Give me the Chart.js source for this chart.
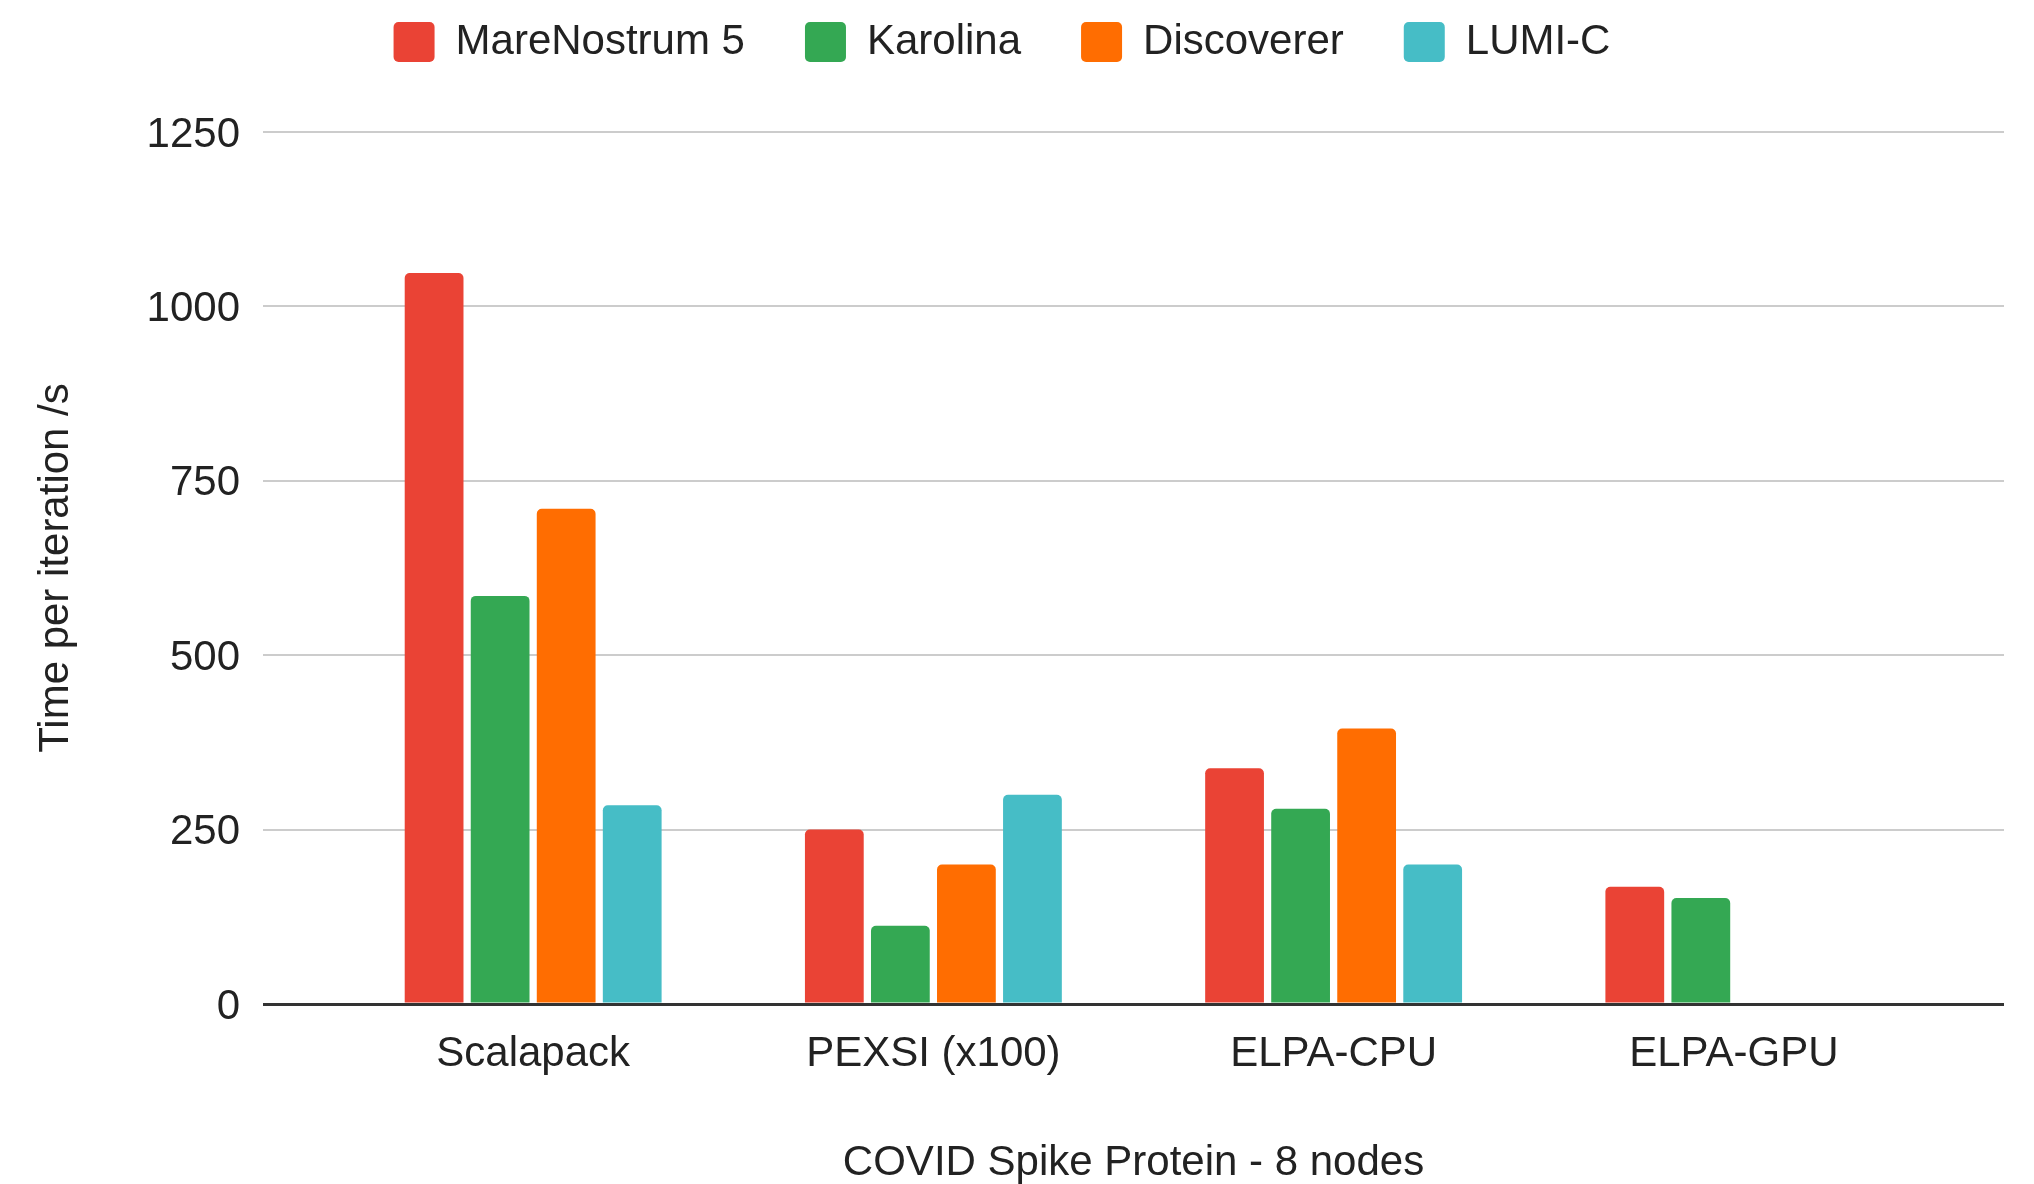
<!DOCTYPE html>
<html>
<head>
<meta charset="utf-8">
<title>COVID Spike Protein - 8 nodes</title>
<script src="https://cdn.jsdelivr.net/npm/chart.js@4.4.1/dist/chart.umd.min.js"></script>
<style>
  html, body { margin: 0; padding: 0; background: #fff; }
  canvas { display: block; }
</style>
</head>
<body>
<canvas id="bar-chart" width="2034" height="1184"></canvas>
<script>
// values (seconds per iteration)
const categories = ['Scalapack', 'PEXSI (x100)', 'ELPA-CPU', 'ELPA-GPU'];
const mareNostrum = [1048, 250, 338, 168];
const karolina = [585, 112, 280, 152];
const discoverer = [710, 200, 395, null];
const lumiC = [285, 300, 200, null];
const yTicks = [0, 250, 500, 750, 1000, 1250];

const FONT = '"Liberation Sans", Arial, sans-serif';
const TEXT = '#222';

// category index -> {x, y} so a linear x axis can leave room at both ends
const toPoints = arr => arr.map((v, i) => ({ x: i, y: v }));

// make the legend take the whole band above the plot
const legendSpace = {
  id: 'legendSpace',
  beforeLayout(chart) {
    const lg = chart.legend;
    if (lg && !lg._padded) {
      const fit = lg.fit;
      lg.fit = function () { fit.call(this); this.height = 171; };
      lg._padded = true;
    }
  }
};

new Chart(document.getElementById('bar-chart'), {
  type: 'bar',
  data: {
    datasets: [
      { label: 'MareNostrum 5', data: toPoints(mareNostrum), backgroundColor: '#EA4335' },
      { label: 'Karolina', data: toPoints(karolina), backgroundColor: '#34A853' },
      { label: 'Discoverer', data: toPoints(discoverer), backgroundColor: '#FF6D01' },
      { label: 'LUMI-C', data: toPoints(lumiC), backgroundColor: '#46BDC6' }
    ]
  },
  options: {
    responsive: false,
    animation: false,
    devicePixelRatio: 1,
    layout: { padding: { top: -39, right: 30, bottom: 0, left: 0 } },
    datasets: {
      bar: {
        categoryPercentage: 0.66,
        barPercentage: 0.89,
        borderRadius: 5,
        borderSkipped: 'start'
      }
    },
    plugins: {
      tooltip: { enabled: false },
      legend: {
        position: 'top',
        labels: {
          boxWidth: 41,
          boxHeight: 40,
          padding: 60,
          useBorderRadius: true,
          borderRadius: 5,
          color: TEXT,
          font: { family: FONT, size: 42 }
        }
      }
    },
    scales: {
      x: {
        type: 'linear',
        offset: false,
        min: -0.675,
        max: 3.675,
        afterBuildTicks: axis => { axis.ticks = categories.map((c, i) => ({ value: i })); },
        afterFit: axis => { axis.height = 180; },
        grid: { display: false, drawTicks: false },
        border: { display: false },
        ticks: {
          padding: 25,
          color: TEXT,
          font: { family: FONT, size: 42 },
          callback: v => categories[v]
        },
        title: {
          display: true,
          text: 'COVID Spike Protein - 8 nodes',
          color: TEXT,
          font: { family: FONT, size: 42 },
          padding: { top: 0, bottom: -5 }
        }
      },
      y: {
        min: 0,
        max: 1250,
        afterBuildTicks: axis => { axis.ticks = yTicks.map(v => ({ value: v })); },
        afterFit: axis => { axis.width = 263; },
        grid: {
          drawTicks: false,
          color: c => (c.tick && c.tick.value === 0 ? '#333' : '#cccccc'),
          lineWidth: c => (c.tick && c.tick.value === 0 ? 3 : 2)
        },
        border: { display: false },
        ticks: {
          padding: 23,
          labelOffset: 3,
          color: TEXT,
          font: { family: FONT, size: 42 },
          callback: v => String(v)
        },
        title: {
          display: true,
          text: 'Time per iteration /s',
          color: TEXT,
          font: { family: FONT, size: 42 },
          padding: { top: 31, bottom: 0 }
        }
      }
    }
  },
  plugins: [legendSpace]
});
</script>
</body>
</html>
